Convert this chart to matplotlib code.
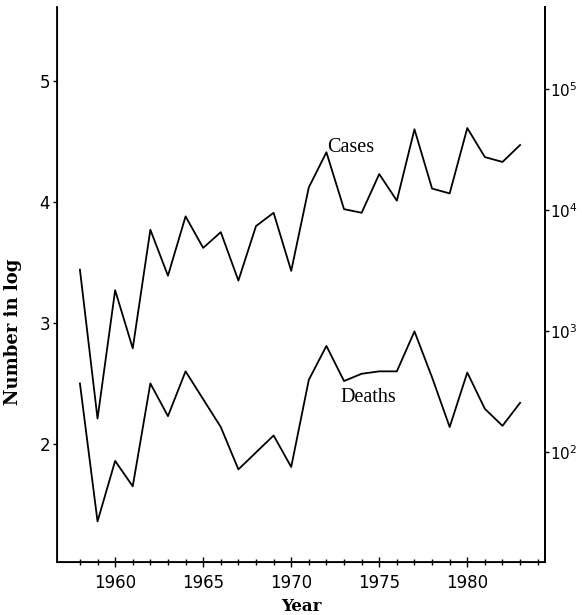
import matplotlib.pyplot as plt
from matplotlib.ticker import FixedLocator

# Дані (log10 кількості), читаються з графіка
years = list(range(1958, 1984))
cases_log = [3.44, 2.21, 3.27, 2.79, 3.77, 3.39, 3.88, 3.62, 3.75, 3.35,
             3.80, 3.91, 3.43, 4.12, 4.41, 3.94, 3.91, 4.23, 4.01, 4.60,
             4.11, 4.07, 4.61, 4.37, 4.33, 4.47]
deaths_log = [2.50, 1.36, 1.86, 1.65, 2.50, 2.23, 2.60, 2.37, 2.14, 1.79,
              1.93, 2.07, 1.81, 2.53, 2.81, 2.52, 2.58, 2.60, 2.60, 2.93,
              2.55, 2.14, 2.59, 2.29, 2.15, 2.34]

left_ticks = [2, 3, 4, 5]
right_ticks = [2, 3, 4, 5]
right_labels = [r'$10^{%d}$' % t for t in right_ticks]
year_ticks = [1960, 1965, 1970, 1975, 1980]
year_minor = list(range(1958, 1985))

plt.rcParams['mathtext.fontset'] = 'dejavusans'

fig = plt.figure(figsize=(5.82, 6.15), dpi=100)
ax = fig.add_axes([0.098, 0.0862, 0.838, 0.9024])

ax.plot(years, cases_log, color='black', lw=1.3)
ax.plot(years, deaths_log, color='black', lw=1.3)

ax.set_xlim(1956.7, 1984.4)
ax.set_ylim(1.025, 5.61)
ax.set_yticks(left_ticks)
ax.set_xticks(year_ticks)
ax.xaxis.set_minor_locator(FixedLocator(year_minor))
ax.tick_params(axis='x', which='major', direction='inout', length=7, width=1, labelsize=12, pad=5)
ax.tick_params(axis='x', which='minor', direction='inout', length=4, width=1)
ax.tick_params(axis='y', direction='out', length=3, width=1, labelsize=12, pad=2)

ax.spines['top'].set_visible(False)
for s in ['left', 'right', 'bottom']:
    ax.spines[s].set_linewidth(1.3)

# підписи кривих
ax.text(1973.4, 4.45, 'Cases', family='Liberation Serif', fontsize=14.5, ha='center', va='center')
ax.text(1974.4, 2.38, 'Deaths', family='Liberation Serif', fontsize=14.5, ha='center', va='center')

ax.set_ylabel('Number in log', family='DejaVu Serif', fontweight='bold', fontsize=13)
ax.yaxis.set_label_coords(-0.072, 0.414)
ax.set_xlabel('Year', family='DejaVu Serif', fontweight='bold', fontsize=12)
ax.xaxis.set_label_coords(0.5, -0.064)

# права вісь у абсолютних числах (трохи зсунута, як на оригіналі)
ax2 = ax.twinx()
ax2.set_ylim(1.025 + 0.065, 5.61 + 0.065)
ax2.set_yticks(right_ticks)
ax2.set_yticklabels(right_labels)
ax2.tick_params(axis='y', direction='out', length=3, width=1, labelsize=11, pad=1)
ax2.spines['top'].set_visible(False)
ax2.spines['right'].set_linewidth(1.3)

fig.savefig('out.png', dpi=100)
